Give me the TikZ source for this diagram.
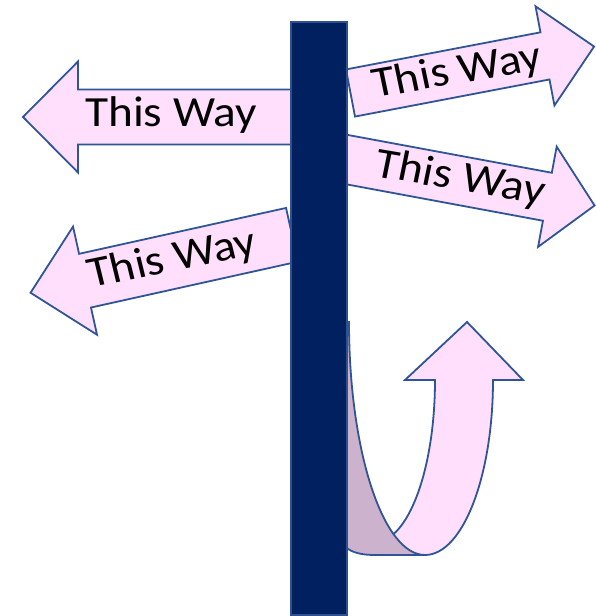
\documentclass[tikz,border=0pt]{standalone}
\usepackage{fontspec}
\setmainfont{Carlito}
\usepackage{tikz}
\definecolor{wayfill}{RGB}{255,223,252}
\definecolor{wayline}{RGB}{47,85,151}
\definecolor{backfill}{RGB}{204,178,204}
\definecolor{polefill}{RGB}{0,32,96}
\definecolor{poleline}{RGB}{47,82,143}

\begin{document}
\begin{tikzpicture}[
  x=1pt,y=1pt,
  way/.style={draw=wayline,fill=wayfill,line width=1.8pt,line join=miter},
  uback/.style={way,fill=backfill},
  waytext/.style={font=\fontsize{43}{48}\selectfont,inner sep=0pt,anchor=base,xscale=1.1},
  pole/.style={draw=poleline,fill=polefill,line width=1.8pt}
]
\useasboundingbox (0,0) rectangle (595,616);

% left, straight
\begin{scope}[shift={(310,499)},rotate=180]
\draw[way] (0,27.5) -- (232,27.5) -- (232,55.5) -- (287,0) -- (232,-55.5)
  -- (232,-27.5) -- (0,-27.5) -- cycle;
\node[waytext] (leftone) at (139,10) {This Way};
\end{scope}

% left, tilted
\begin{scope}[shift={(292,381.2)},rotate=192.5]
\draw[way] (0,27.5) -- (212,27.5) -- (212,55.4) -- (267.8,0) -- (212,-55.4)
  -- (212,-27.5) -- (0,-27.5) -- cycle;
\node[waytext,rotate=12.5] (lefttwo) at (122,10) {This Way};
\end{scope}

% right, upwards
\begin{scope}[shift={(350.5,523)},rotate=10.8]
\draw[way] (0,24) -- (198,24) -- (198,50.5) -- (248,0) -- (198,-50.5)
  -- (198,-24) -- (0,-24) -- cycle;
\node[waytext,rotate=10.8] (rightone) at (109,-11) {This Way};
\end{scope}

% right, downwards
\begin{scope}[shift={(335,458.6)},rotate=-10.5]
\draw[way] (0,24.4) -- (216,24.4) -- (216,51) -- (264,0) -- (216,-51)
  -- (216,-24.4) -- (0,-24.4) -- cycle;
\node[waytext,rotate=-10.5] (righttwo) at (127,-10) {This Way};
\end{scope}

% u-turn: front then back
\draw[way] (425,61) .. controls (462.6,61) and (493,139.3) .. (493,236)
  -- (523,236) -- (467,294) -- (405,236) -- (435,236)
  .. controls (435,146.5) and (408,74) .. (375,74) -- (375,61) -- cycle;
\draw[uback] (335,294) -- (349,294) .. controls (349,165.3) and (383,61) .. (425,61)
  -- (375,61) .. controls (352,61) and (340,68) .. (337,86) -- cycle;

% post
\draw[pole] (291,1) rectangle (347,594);
\end{tikzpicture}
\end{document}
